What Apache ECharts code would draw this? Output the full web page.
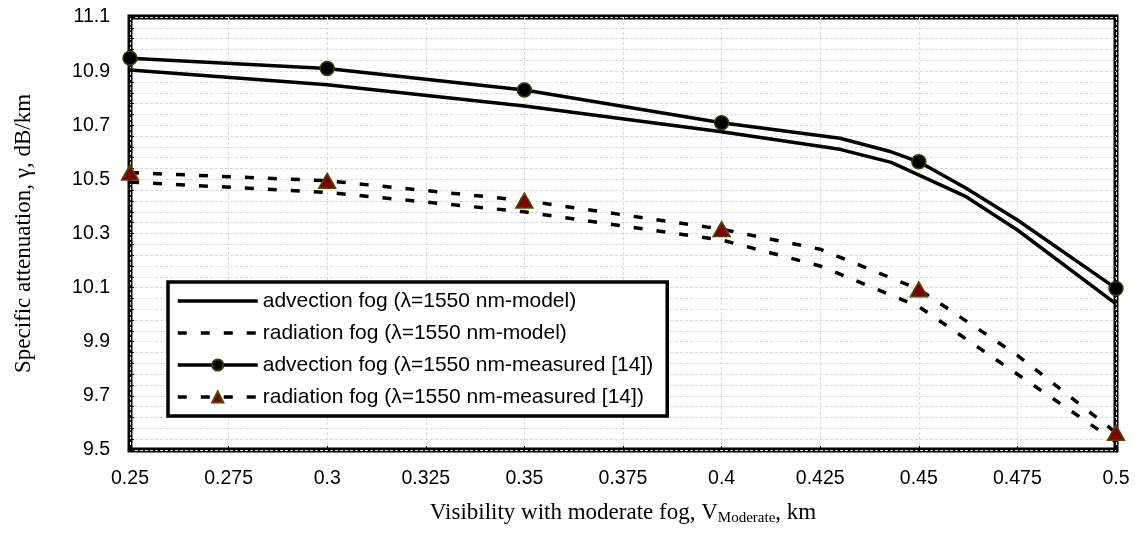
<!DOCTYPE html>
<html><head><meta charset="utf-8">
<script src="https://cdn.jsdelivr.net/npm/echarts@6/dist/echarts.min.js"></script>
<style>html,body{margin:0;padding:0;background:#fff}#c{width:1135px;height:542px}</style>
</head><body><div id="c"></div>
<script>
const seriesNames = [
  'advection fog (λ=1550 nm-model)',
  'radiation fog (λ=1550 nm-model)',
  'advection fog (λ=1550 nm-measured [14])',
  'radiation fog (λ=1550 nm-measured [14])'
];
const advModelX = [0.25, 0.30, 0.35, 0.40, 0.43, 0.443, 0.462, 0.475, 0.50];
const advModelY = [10.904, 10.85, 10.771, 10.676, 10.611, 10.563, 10.436, 10.313, 10.04];
const radModelX = [0.25, 0.30, 0.35, 0.40, 0.425, 0.45, 0.475, 0.50];
const radModelY = [10.49, 10.452, 10.38, 10.276, 10.18, 10.03, 9.78, 9.53];
const advMeasX = [0.25, 0.30, 0.35, 0.40, 0.43, 0.443, 0.45, 0.462, 0.475, 0.50];
const advMeasY = [10.948, 10.91, 10.83, 10.709, 10.652, 10.602, 10.565, 10.467, 10.35, 10.097];
const radMeasX = [0.25, 0.30, 0.35, 0.40, 0.425, 0.45, 0.475, 0.50];
const radMeasY = [10.525, 10.495, 10.422, 10.316, 10.242, 10.094, 9.85, 9.564];
const markerX = [0.25, 0.30, 0.35, 0.40, 0.45, 0.50];
const xRange = [0.25, 0.5, 0.025];
const yRange = [9.5, 11.1, 0.2];

function pts(xs, ys, marked) {
  return xs.map((x, i) => {
    const it = { value: [x, ys[i]] };
    if (marked && !markerX.some(m => Math.abs(m - x) < 1e-9)) it.symbol = 'none';
    return it;
  });
}
const dashed = [9, 14];
const grey = { color: '#dadada', width: 1, type: [3, 2] };
const chart = echarts.init(document.getElementById('c'), null, { renderer: 'canvas' });
chart.setOption({
  animation: false,
  grid: { left: 130, right: 19, top: 17, bottom: 92, show: true, borderColor: '#000', borderWidth: 5, backgroundColor: 'transparent' },
  xAxis: {
    type: 'value', min: xRange[0], max: xRange[1], interval: xRange[2],
    axisLine: { show: false },
    axisTick: { show: true, inside: true, length: 4, lineStyle: { color: '#000', width: 1 } },
    axisLabel: { margin: 19, color: '#000', fontFamily: 'Liberation Sans', fontSize: 19.5,
      formatter: v => String(+v.toFixed(3)) },
    splitLine: { show: true, lineStyle: grey },
    name: '{a|Visibility with moderate fog, V}{s|Moderate}{a|, km}',
    nameLocation: 'middle', nameGap: 50,
    nameTextStyle: { rich: {
      a: { fontFamily: 'Liberation Serif', fontSize: 23, color: '#000' },
      s: { fontFamily: 'Liberation Serif', fontSize: 15, color: '#000', padding: [11, 0, 0, 0] }
    } }
  },
  yAxis: {
    type: 'value', min: yRange[0], max: yRange[1], interval: yRange[2],
    axisLine: { show: false },
    axisTick: { show: true, inside: true, length: 4, lineStyle: { color: '#000', width: 1 } },
    minorTick: { show: true, splitNumber: 5, length: 4, lineStyle: { color: '#000', width: 1 } },
    axisLabel: { margin: 20, color: '#000', fontFamily: 'Liberation Sans', fontSize: 19.5,
      formatter: v => v.toFixed(1) },
    splitLine: { show: true, lineStyle: grey },
    minorSplitLine: { show: true, lineStyle: grey },
    name: 'Specific attenuation, γ, dB/km',
    nameLocation: 'middle', nameGap: 95,
    nameTextStyle: { fontFamily: 'Liberation Serif', fontSize: 23, color: '#000' }
  },
  legend: {
    orient: 'vertical', left: 168, top: 282,
    data: [
      { name: seriesNames[0], itemStyle: { opacity: 0 } },
      { name: seriesNames[1], itemStyle: { opacity: 0 } },
      { name: seriesNames[2] },
      { name: seriesNames[3] }
    ],
    itemWidth: 80, itemHeight: 14, itemGap: 10,
    padding: [8, 14, 8, 8],
    lineStyle: { width: 3.5 },
    borderColor: '#000', borderWidth: 3.5, backgroundColor: '#fff',
    textStyle: { fontFamily: 'Liberation Sans', fontSize: 21, color: '#000', lineHeight: 22 }
  },
  series: [
    { name: seriesNames[0], type: 'line', symbol: 'none', clip: false,
      lineStyle: { color: '#000', width: 3.5 }, itemStyle: { color: '#000' },
      data: pts(advModelX, advModelY, false) },
    { name: seriesNames[1], type: 'line', symbol: 'none', clip: false,
      lineStyle: { color: '#000', width: 3.5, type: dashed }, itemStyle: { color: '#000' },
      data: pts(radModelX, radModelY, false) },
    { name: seriesNames[2], type: 'line', symbol: 'circle', symbolSize: 14, showSymbol: true, clip: false,
      lineStyle: { color: '#000', width: 3.5 },
      itemStyle: { color: '#000', borderColor: '#3d3d00', borderWidth: 1.5 },
      data: pts(advMeasX, advMeasY, true) },
    { name: seriesNames[3], type: 'line', symbol: 'triangle', symbolSize: [17, 15], showSymbol: true, clip: false,
      lineStyle: { color: '#000', width: 3.5, type: dashed },
      itemStyle: { color: '#800000', borderColor: '#4d4d00', borderWidth: 1.5 },
      data: pts(radMeasX, radMeasY, true) }
  ]
});
</script></body></html>
